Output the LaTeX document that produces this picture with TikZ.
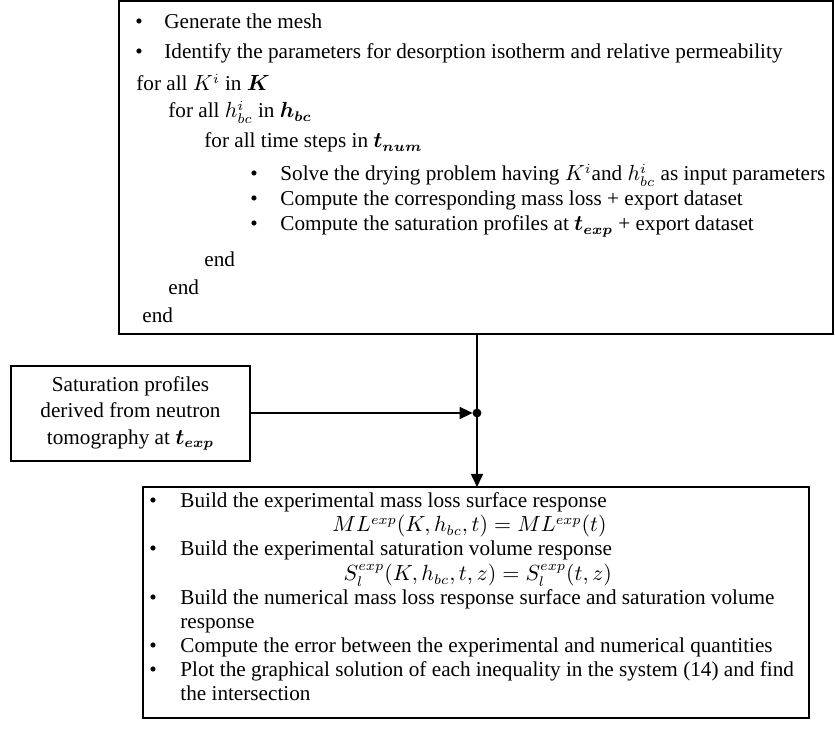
\documentclass[tikz,border=0pt]{standalone}
\usepackage{amsmath}
\usepackage{bm}
\usepackage{fontspec}
\setmainfont{Liberation Serif}
\usetikzlibrary{arrows.meta}
\begin{document}
\begin{tikzpicture}[x=0.5pt,y=-0.5pt,
  box/.style={draw, line width=1pt, inner sep=0pt, outer sep=0pt, anchor=north west},
  txt/.style={anchor=base west, inner sep=0pt, font=\fontsize{10.6}{13}\selectfont},
  bul/.style={anchor=base, inner sep=0pt, font=\fontsize{10.6}{13}\selectfont},
  eqn/.style={anchor=base east, inner sep=0pt, font=\fontsize{10.6}{13}\selectfont},
  wire/.style={line width=0.8pt},
  link/.style={line width=0.8pt, -{Triangle[length=6.5pt,width=6pt]}}
]
\useasboundingbox (0,0) rectangle (835,742);

% boxes
\node[box, minimum width=357pt, minimum height=166.5pt] (top) at (119,1) {};
\node[box, minimum width=119.5pt, minimum height=47.5pt] (lbox) at (11,366) {};
\node[box, minimum width=333pt, minimum height=115.5pt] (bot) at (143,487) {};

% top box text
\node[bul] (b1) at (139,29) {\textbullet};
\node[txt] (t1) at (164,29) {Generate the mesh};
\node[bul] (b2) at (139,59) {\textbullet};
\node[txt] (t2) at (164,59) {Identify the parameters for desorption isotherm and relative permeability};
\node[txt] (t3) at (136,91) {for all $K^i$ in $\bm{K}$};
\node[txt] (t4) at (168,118) {for all $h^i_{bc}$ in $\bm{h_{bc}}$};
\node[txt] (t5) at (204,148) {for all time steps in $\bm{t_{num}}$};
\node[bul] (b6) at (254,181) {\textbullet};
\node[txt] (t6) at (280,181) {Solve the drying problem having $K^i$and $h^i_{bc}$ as input parameters};
\node[bul] (b7) at (254,206) {\textbullet};
\node[txt] (t7) at (280,206) {Compute the corresponding mass loss + export dataset};
\node[bul] (b8) at (254,231) {\textbullet};
\node[txt] (t8) at (280,231) {Compute the saturation profiles at $\bm{t_{exp}}$ + export dataset};
\node[txt] (e1) at (204,267) {end};
\node[txt] (e2) at (168,295) {end};
\node[txt] (e3) at (142,323) {end};

% left box text
\node[align=center, inner sep=0pt, font=\fontsize{10.6}{13.25}\selectfont] (ltxt) at (lbox.center)
  {Saturation profiles\\derived from neutron\\tomography at $\bm{t_{exp}}$};

% bottom box text
\node[bul] (c1) at (153,508) {\textbullet};
\node[txt] (d1) at (180,508) {Build the experimental mass loss surface response};
\node[eqn] (q1) at (d1.base east |- 0,532) {$ML^{exp}(K,h_{bc},t)=ML^{exp}(t)$};
\node[bul] (c2) at (153,556) {\textbullet};
\node[txt] (d2) at (180,556) {Build the experimental saturation volume response};
\node[eqn] (q2) at (d2.base east |- 0,581) {$S_l^{exp}(K,h_{bc},t,z)=S_l^{exp}(t,z)$};
\node[bul] (c3) at (153,604) {\textbullet};
\node[txt] (d3) at (180,604) {Build the numerical mass loss response surface and saturation volume};
\node[txt] (d3b) at (180,628) {response};
\node[bul] (c4) at (153,652) {\textbullet};
\node[txt] (d4) at (180,652) {Compute the error between the experimental and numerical quantities};
\node[bul] (c5) at (153,676) {\textbullet};
\node[txt] (d5) at (180,676) {Plot the graphical solution of each inequality in the system (14) and find};
\node[txt] (d5b) at (180,700) {the intersection};

% connectors
\coordinate (j) at (477,413);
\draw[wire] (top.south -| j) -- (j);
\draw[link] (j) -- (j |- bot.north);
\draw[link, shorten >=2.2pt] (lbox.east |- j) -- (j);
\fill (j) circle (2.2pt);
\end{tikzpicture}
\end{document}
